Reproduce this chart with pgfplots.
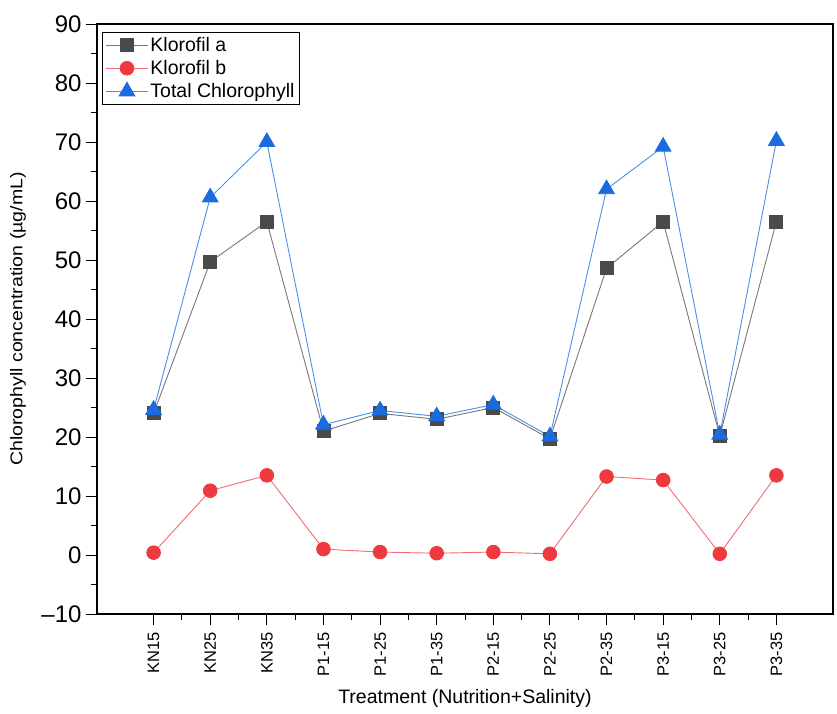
\documentclass[border=0pt]{standalone}
\usepackage{pgfplots}
\pgfplotsset{compat=1.18}
\usepackage{fontspec}
\setmainfont{Liberation Sans}
\setsansfont{Liberation Sans}
\newfontfamily\stretchfont[FakeStretch=1.15]{Liberation Sans}
\definecolor{cA}{HTML}{4A4A4A}
\definecolor{cAl}{HTML}{777777}
\definecolor{cB}{HTML}{EE3A3F}
\definecolor{cBl}{HTML}{F26C70}
\definecolor{cC}{HTML}{1A6BDD}
\definecolor{cCl}{HTML}{4A90E8}
\begin{document}
\begin{tikzpicture}[x=1pt,y=1pt]
\path[use as bounding box] (-97,-99) rectangle (740,614);
\begin{axis}[
  at={(0,0)}, anchor=south west,
  scale only axis, width=736pt, height=590pt,
  xmin=0, xmax=13, ymin=-10, ymax=90,
  xtick={1,...,12},
  xticklabels={KN15,KN25,KN35,P1-15,P1-25,P1-35,P2-15,P2-25,P2-35,P3-15,P3-25,P3-35},
  x tick label style={rotate=90, anchor=east, font=\fontsize{16.5}{18}\selectfont, xshift=-4pt},
  minor x tick num=1,
  ytick={-10,0,10,20,30,40,50,60,70,80,90},
  yticklabels={\textendash10,0,10,20,30,40,50,60,70,80,90},
  minor y tick num=1,
  y tick label style={font=\fontsize{24}{26}\selectfont, xshift=-1pt},
  tick align=outside, tick pos=left,
  major tick length=11pt, minor tick length=6pt,
  every tick/.style={black, line width=1pt},
  axis line style={black, line width=1.3pt},
  xlabel={Treatment (Nutrition+Salinity)},
  ylabel={Chlorophyll concentration (\textmu g/mL)},
  xlabel style={font=\fontsize{19.5}{21}\selectfont, at={(axis description cs:0.5,-0.1430)}, anchor=center},
  ylabel style={font=\stretchfont\fontsize{17}{19}\selectfont, at={(axis description cs:-0.1073,0.5)}, anchor=center},
  legend style={at={(0.0075,0.986)}, anchor=north west, draw=black, line width=0.7pt,
    font=\fontsize{19.5}{22}\selectfont, row sep=3.5pt, inner sep=3pt, outer sep=0pt,
    /tikz/every even column/.append style={column sep=3pt}},
  legend cell align=left,
  legend image code/.code={\draw[#1] (0pt,0pt) -- (42pt,0pt); \draw[#1, only marks] plot coordinates {(21pt,0pt)};},
]
\addplot[color=cAl, line width=0.9pt, mark=square*, mark size=6.5pt, mark options={draw=cA, fill=cA}] coordinates {
(1,24.0) (2,49.7) (3,56.5) (4,21.0) (5,24.0) (6,23.0) (7,25.0) (8,19.7) (9,48.6) (10,56.5) (11,20.2) (12,56.5)};
\addlegendentry{Klorofil a}
\addplot[color=cBl, line width=0.9pt, mark=*, mark size=6.8pt, mark options={draw=cB, fill=cB}] coordinates {
(1,0.4) (2,10.9) (3,13.5) (4,1.0) (5,0.5) (6,0.3) (7,0.5) (8,0.2) (9,13.3) (10,12.7) (11,0.2) (12,13.5)};
\addlegendentry{Klorofil b}
\addplot[color=cCl, line width=0.9pt, mark=triangle*, mark size=9pt, mark options={draw=cC, fill=cC}] coordinates {
(1,24.6) (2,60.6) (3,70.0) (4,22.1) (5,24.5) (6,23.5) (7,25.5) (8,20.1) (9,62.0) (10,69.2) (11,20.4) (12,70.2)};
\addlegendentry{Total Chlorophyll}
\end{axis}
\end{tikzpicture}
\end{document}
